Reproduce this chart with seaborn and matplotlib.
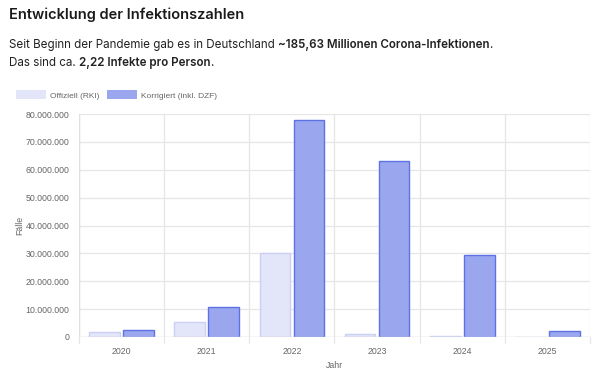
import matplotlib
matplotlib.use("Agg")
import matplotlib.pyplot as plt
import seaborn as sns
import pandas as pd
from matplotlib.ticker import FuncFormatter, FixedLocator

years = ["2020", "2021", "2022", "2023", "2024", "2025"]
offiziell = [1_700_000, 5_400_000, 30_200_000, 1_200_000, 200_000, 60_000]
korrigiert = [2_600_000, 10_800_000, 77_700_000, 63_000_000, 29_500_000, 2_000_000]
series_names = ["Offiziell (RKI)", "Korrigiert (inkl. DZF)"]
y_ticks = [0, 10_000_000, 20_000_000, 30_000_000, 40_000_000, 50_000_000, 60_000_000, 70_000_000, 80_000_000]

df = pd.DataFrame({
    "Jahr": years * 2,
    "Fälle": offiziell + korrigiert,
    "Serie": [series_names[0]] * len(years) + [series_names[1]] * len(years),
})

sns.set_theme(style="white")
plt.rcParams["font.family"] = ["Liberation Sans", "DejaVu Sans"]

fig = plt.figure(figsize=(6.08, 3.78), dpi=100)
ax = fig.add_axes([79 / 608, 1 - 337 / 378, (590 - 79) / 608, (337 - 114) / 378])

fills = {series_names[0]: "#E3E5F8", series_names[1]: "#9AA7EE"}
edges = [("#CBD0F4"), ("#5E71E5")]

sns.barplot(data=df, x="Jahr", y="Fälle", hue="Serie", palette=fills,
            width=0.8, gap=0.1, ax=ax, saturation=1, linewidth=0)

for cont, ec in zip(ax.containers, edges):
    for bar in cont:
        bar.set_edgecolor(ec)
        bar.set_linewidth(1.0)

ax.set_ylim(0, 80_000_000)
ax.set_xlim(-0.5, len(years) - 0.5)
ax.yaxis.set_major_locator(FixedLocator(y_ticks))
ax.yaxis.set_major_formatter(FuncFormatter(lambda v, p: f"{int(v):,}".replace(",", ".")))

ax.grid(False)
for yv in y_ticks:
    ax.axhline(yv, color="#E6E6E6", lw=0.9, zorder=0)
for xb in [i - 0.5 for i in range(len(years) + 1)]:
    ax.plot([xb, xb], [0, 1], transform=ax.get_xaxis_transform(), color="#E6E6E6", lw=0.9, zorder=0)
    ax.plot([xb, xb], [-0.025, 0], transform=ax.get_xaxis_transform(), color="#E6E6E6", lw=0.9,
            zorder=0, clip_on=False)
ax.axhline(0, color="#DDDDDD", lw=1.0, zorder=3)
ax.axvline(-0.5, color="#E0E0E0", lw=1.0, zorder=0)

for s in ax.spines.values():
    s.set_visible(False)

FS = 6.3
ax.tick_params(axis="y", length=5, color="#E6E6E6", labelsize=FS, labelcolor="#666666", pad=2)
ax.tick_params(axis="x", length=0, labelsize=FS, labelcolor="#666666", pad=7)
ax.set_xlabel("Jahr", fontsize=FS, color="#666666", labelpad=4)
ax.set_ylabel("Fälle", fontsize=FS, color="#666666")
ax.yaxis.set_label_coords(-0.108, 0.5)

handles, labels = ax.get_legend_handles_labels()
ax.legend(handles, labels, loc="center left", bbox_to_anchor=(16 / 608, 1 - 95 / 378),
          bbox_transform=fig.transFigure, ncol=2, frameon=False, fontsize=6.0,
          labelcolor="#666666", handlelength=3.6, handleheight=1.2, handletextpad=0.5,
          columnspacing=0.85, borderpad=0, borderaxespad=0)

# Header texts
fig.text(9 / 608, 1 - 15 / 378, "Entwicklung der Infektionszahlen", fontsize=10.5,
         family=["Inter", "DejaVu Sans"], fontweight="semibold", color="#1a1a1a", va="center")

def rich_line(parts, x, y):
    t = fig.text(x, y, parts[0][0], fontsize=8.35, family=["Inter", "DejaVu Sans"],
                 fontweight=parts[0][1], color="#222222", va="bottom")
    for text, weight in parts[1:]:
        t = ax.annotate(text, xy=(1, 0), xycoords=t, fontsize=8.35, family=["Inter", "DejaVu Sans"],
                        fontweight=weight, color="#222222", va="bottom", ha="left",
                        annotation_clip=False)
    return t

rich_line([("Seit Beginn der Pandemie gab es in Deutschland ", "normal"),
           ("~185,63 Millionen Corona-Infektionen", "semibold"),
           (".", "normal")], 9 / 608, 1 - 51 / 378)
rich_line([("Das sind ca. ", "normal"),
           ("2,22 Infekte pro Person", "semibold"),
           (".", "normal")], 9 / 608, 1 - 69 / 378)

fig.savefig("out.png", dpi=100)
